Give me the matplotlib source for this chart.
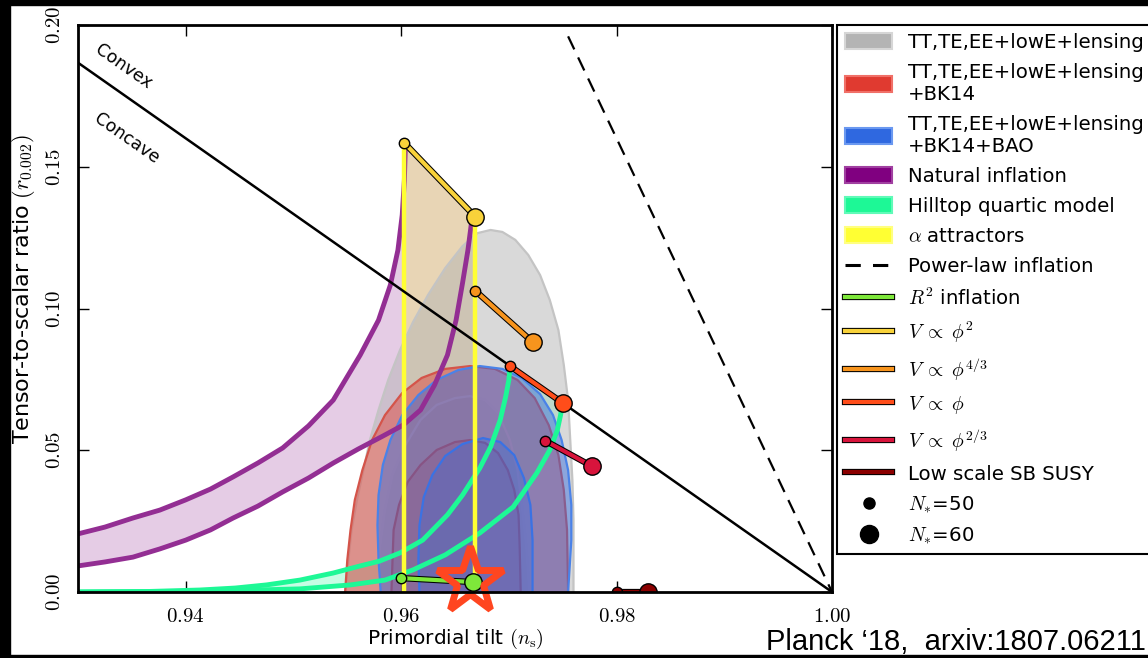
import matplotlib
matplotlib.use("Agg")
import matplotlib.pyplot as plt
import matplotlib.patheffects as pe
from matplotlib.patches import Patch, Rectangle
from matplotlib.lines import Line2D
from matplotlib.ticker import FuncFormatter, FixedLocator

plt.rcParams['mathtext.fontset'] = 'cm'
plt.rcParams['font.family'] = ['DejaVu Sans']

# ---------------- data (ns, r) ----------------
gray95_ns = [0.9548, 0.9551, 0.9554, 0.9559, 0.9565, 0.9571, 0.9579, 0.9588, 0.9599, 0.9611, 0.9625,
             0.9641, 0.9657, 0.9671, 0.9683, 0.9694, 0.9706, 0.9718, 0.9729, 0.9738, 0.9746, 0.9751,
             0.9755, 0.9757, 0.9759, 0.9760, 0.9760]
gray95_r = [0.0, 0.0113, 0.0219, 0.0325, 0.0430, 0.0536, 0.0642, 0.0748, 0.0854, 0.0952, 0.1048,
            0.1143, 0.1220, 0.1266, 0.1277, 0.1270, 0.1242, 0.1189, 0.1118, 0.1030, 0.0924, 0.0801,
            0.0677, 0.0536, 0.0395, 0.0254, 0.0]
gray68_ns = [0.9579, 0.9580, 0.9585, 0.9592, 0.9604, 0.9618, 0.9633, 0.9650, 0.9664, 0.9678, 0.9690,
             0.9701, 0.9708, 0.9712, 0.9716, 0.9719]
gray68_r = [0.0, 0.0148, 0.0289, 0.0413, 0.0519, 0.0607, 0.0660, 0.0684, 0.0691, 0.0677, 0.0631,
            0.0536, 0.0430, 0.0307, 0.0166, 0.0]

red95_ns = [0.9548, 0.9550, 0.9553, 0.9557, 0.9564, 0.9573, 0.9585, 0.9601, 0.9619, 0.9641, 0.9664,
            0.9687, 0.9708, 0.9724, 0.9737, 0.9746, 0.9751, 0.9754, 0.9755]
red95_r = [0.0, 0.0113, 0.0219, 0.0325, 0.0430, 0.0536, 0.0624, 0.0702, 0.0755, 0.0787, 0.0797,
           0.0787, 0.0748, 0.0684, 0.0589, 0.0483, 0.0360, 0.0219, 0.0]
red68_ns = [0.9591, 0.9592, 0.9593, 0.9598, 0.9606, 0.9618, 0.9633, 0.9650, 0.9664, 0.9678, 0.9690,
            0.9699, 0.9705, 0.9709, 0.9710, 0.9711]
red68_r = [0.0, 0.0113, 0.0219, 0.0307, 0.0388, 0.0448, 0.0501, 0.0529, 0.0536, 0.0526, 0.0490,
           0.0430, 0.0360, 0.0272, 0.0166, 0.0]

blue95_ns = [0.9581, 0.9579, 0.9578, 0.9579, 0.9583, 0.9590, 0.9601, 0.9616, 0.9633, 0.9653, 0.9673,
             0.9694, 0.9712, 0.9729, 0.9741, 0.9749, 0.9755, 0.9758, 0.9758, 0.9756, 0.9755]
blue95_r = [0.0, 0.0113, 0.0236, 0.0342, 0.0448, 0.0536, 0.0624, 0.0695, 0.0748, 0.0783, 0.0797,
            0.0787, 0.0755, 0.0698, 0.0624, 0.0536, 0.0430, 0.0307, 0.0183, 0.0060, 0.0]
blue68_ns = [0.9617, 0.9616, 0.9617, 0.9621, 0.9629, 0.9641, 0.9657, 0.9676, 0.9692, 0.9705, 0.9714,
             0.9720, 0.9722, 0.9722, 0.9722]
blue68_r = [0.0, 0.0113, 0.0236, 0.0335, 0.0413, 0.0480, 0.0522, 0.0543, 0.0529, 0.0483, 0.0402,
            0.0307, 0.0183, 0.0060, 0.0]

nat50_ns = [0.9300, 0.9325, 0.9351, 0.9376, 0.9400, 0.9423, 0.9444, 0.9467, 0.9490, 0.9514, 0.9537,
            0.9562, 0.9579, 0.9590, 0.9597, 0.9601, 0.9603, 0.9604]
nat50_r = [0.0205, 0.0229, 0.0261, 0.0289, 0.0325, 0.0363, 0.0406, 0.0455, 0.0508, 0.0586, 0.0677,
           0.0836, 0.0959, 0.1083, 0.1206, 0.1330, 0.1453, 0.1584]
nat60_ns = [0.9300, 0.9325, 0.9351, 0.9376, 0.9400, 0.9423, 0.9444, 0.9467, 0.9490, 0.9514, 0.9537,
            0.9560, 0.9583, 0.9602, 0.9618, 0.9631, 0.9643, 0.9651, 0.9657, 0.9662, 0.9666]
nat60_r = [0.0092, 0.0106, 0.0123, 0.0152, 0.0183, 0.0219, 0.0261, 0.0303, 0.0353, 0.0402, 0.0455,
           0.0504, 0.0550, 0.0589, 0.0642, 0.0730, 0.0836, 0.0959, 0.1090, 0.1206, 0.1323]

hill50_ns = [0.9300, 0.9367, 0.9413, 0.9446, 0.9475, 0.9506, 0.9537, 0.9562, 0.9580, 0.9599, 0.9620,
             0.9643, 0.9657, 0.9673, 0.9683, 0.9692, 0.9697, 0.9700, 0.9701]
hill50_r = [0.0, 0.0002, 0.0007, 0.0014, 0.0025, 0.0042, 0.0067, 0.0092, 0.0109, 0.0138, 0.0183,
            0.0272, 0.0342, 0.0437, 0.0511, 0.0607, 0.0688, 0.0748, 0.0797]
hill60_ns = [0.9300, 0.9413, 0.9506, 0.9553, 0.9585, 0.9611, 0.9641, 0.9673, 0.9704, 0.9726, 0.9738,
             0.9745, 0.9748, 0.9750]
hill60_r = [0.0, 0.0002, 0.0011, 0.0025, 0.0042, 0.0078, 0.0131, 0.0208, 0.0300, 0.0420, 0.0501,
            0.0571, 0.0624, 0.0667]

convex_ns = [0.93, 1.00]
convex_r = [0.1867, 0.0]
powerlaw_ns = [0.9755, 1.00]
powerlaw_r = [0.1960, 0.0]

# model predictions: (N*=50, N*=60)
r2_ns, r2_r = [0.9600, 0.9667], [0.0049, 0.0035]
phi2_ns, phi2_r = [0.9603, 0.9669], [0.1584, 0.1323]
phi43_ns, phi43_r = [0.9669, 0.9722], [0.1062, 0.0882]
phi1_ns, phi1_r = [0.9701, 0.9750], [0.0797, 0.0667]
phi23_ns, phi23_r = [0.9734, 0.9777], [0.0533, 0.0444]
susy_ns, susy_r = [0.9800, 0.9829], [0.0, 0.0]
star_ns, star_r = 0.9664, 0.0040

xticks = [0.94, 0.96, 0.98, 1.00]
yticks = [0.00, 0.05, 0.10, 0.15, 0.20]

# ---------------- figure ----------------
fig = plt.figure(figsize=(11.48, 6.58), dpi=100)
fig.patch.set_facecolor('white')
ax = fig.add_axes([78/1148, 66/658, 754/1148, 567/658])
ax.set_xlim(0.93, 1.00)
ax.set_ylim(0.0, 0.20)

c_gray, c_red, c_blue = '#b4b4b4', '#e03a30', '#2f68e0'
c_purple, c_green, c_yellow = '#800080', '#1df896', '#ffff33'

# background fills (below the likelihood contours)
ax.fill(nat50_ns + nat60_ns[::-1], nat50_r + nat60_r[::-1], facecolor=c_purple, alpha=0.2,
        edgecolor='none', zorder=0.5)
ax.fill([phi2_ns[0], phi2_ns[0], phi2_ns[1], phi2_ns[1]], [0, phi2_r[0], phi2_r[1], 0],
        facecolor='#e8d5b5', edgecolor='none', zorder=0.6)
ax.fill(hill50_ns + hill60_ns[::-1], hill50_r + hill60_r[::-1], facecolor=c_green, alpha=0.25,
        edgecolor='none', zorder=0.7)

def contour(ns, r, col, alpha, ecol, z):
    ax.fill(ns, r, facecolor=col, alpha=alpha, edgecolor='none', zorder=z)
    ax.plot(ns, r, color=ecol, lw=1.6, zorder=z + 0.1, solid_capstyle='butt')

contour(gray95_ns, gray95_r, c_gray, 0.5, '#c4c4c4', 1)
contour(gray68_ns, gray68_r, c_gray, 0.2, '#d8d8d8', 1.2)
contour(red95_ns, red95_r, c_red, 0.45, '#d4544a', 2)
contour(red68_ns, red68_r, c_red, 0.3, '#d0443a', 2.2)
contour(blue95_ns, blue95_r, c_blue, 0.45, '#4a82e8', 3)
contour(blue68_ns, blue68_r, c_blue, 0.3, '#3a72e4', 3.2)

# natural inflation lines
ax.plot(nat50_ns, nat50_r, color='#932e93', lw=3.5, zorder=4.1)
ax.plot(nat60_ns, nat60_r, color='#932e93', lw=3.5, zorder=4.1)

# hilltop quartic lines
ax.plot(hill50_ns, hill50_r, color=c_green, lw=3.5, zorder=5.1)
ax.plot(hill60_ns, hill60_r, color=c_green, lw=3.5, zorder=5.1)

# alpha attractors
ax.plot([phi2_ns[0], phi2_ns[0]], [0, phi2_r[0]], color=c_yellow, lw=3.2, zorder=5.6)
ax.plot([phi2_ns[1], phi2_ns[1]], [0, phi2_r[1]], color=c_yellow, lw=3.2, zorder=5.6)

# convex / concave and power law
ax.plot(convex_ns, convex_r, color='black', lw=1.8, zorder=6)
ax.plot(powerlaw_ns, powerlaw_r, color='black', lw=1.6, linestyle=(0, (6.5, 4)), zorder=6)
ax.text(0.93418, 0.1852, 'Convex', rotation=-35, ha='center', va='center', fontsize=12.5,
        rotation_mode='anchor', zorder=6)
ax.text(0.93455, 0.1598, 'Concave', rotation=-35, ha='center', va='center', fontsize=12.5,
        rotation_mode='anchor', zorder=6)

outline = [pe.Stroke(linewidth=4.5, foreground='black'), pe.Normal()]
models = [
    (r2_ns, r2_r, '#7ee83a'),
    (phi2_ns, phi2_r, '#f8d23a'),
    (phi43_ns, phi43_r, '#f7941d'),
    (phi1_ns, phi1_r, '#ff4d1a'),
    (phi23_ns, phi23_r, '#d8143c'),
    (susy_ns, susy_r, '#8b0000'),
]
for ns, r, col in models:
    ax.plot(ns, r, color=col, lw=3, zorder=7, path_effects=outline, solid_capstyle='butt')
    ax.plot(ns[0], r[0], 'o', ms=7.5, mfc=col, mec='black', mew=1, zorder=8)
    ax.plot(ns[1], r[1], 'o', ms=12.5, mfc=col, mec='black', mew=1, zorder=8)

ax.plot(star_ns, star_r, marker='*', ms=50, mfc='none', mec='#ff4620', mew=5, zorder=9,
        clip_on=False, linestyle='none')

# axes styling
for s in ax.spines.values():
    s.set_linewidth(2)
    s.set_zorder(10)
ax.xaxis.set_major_locator(FixedLocator(xticks))
ax.yaxis.set_major_locator(FixedLocator(yticks))
ax.xaxis.set_major_formatter(FuncFormatter(lambda v, p: r'$%.2f$' % v))
ax.yaxis.set_major_formatter(FuncFormatter(lambda v, p: r'$%.2f$' % v))
ax.tick_params(direction='in', length=8, width=1, top=True, right=True, labelsize=15, pad=10)
for lab in ax.get_yticklabels():
    lab.set_rotation(90)
    lab.set_va('center')
ax.set_xlabel(r'Primordial tilt $(n_\mathrm{s})$', fontsize=14.5, labelpad=1)
ax.set_ylabel(r'Tensor-to-scalar ratio $(r_{0.002})$', fontsize=16)
ax.yaxis.set_label_coords(-0.0545, 0.535)

# legend
handles = [
    Patch(facecolor=c_gray, edgecolor='#d6d6d6', lw=1.5),
    Patch(facecolor=c_red, edgecolor='#f07068', lw=1.5),
    Patch(facecolor=c_blue, edgecolor='#6a98f0', lw=1.5),
    Patch(facecolor=c_purple, edgecolor='#a040a0', lw=1.5),
    Patch(facecolor=c_green, edgecolor='#60fab8', lw=1.5),
    Patch(facecolor=c_yellow, edgecolor='#ffff80', lw=1.5),
    Line2D([], [], color='black', lw=2.2, linestyle=(0, (5, 4))),
]
for _, _, col in models:
    handles.append(Line2D([], [], color=col, lw=3, path_effects=outline))
handles.append(Line2D([], [], marker='o', ms=8, color='black', linestyle='none'))
handles.append(Line2D([], [], marker='o', ms=13, color='black', linestyle='none'))
labels = ['TT,TE,EE+lowE+lensing', 'TT,TE,EE+lowE+lensing\n+BK14',
          'TT,TE,EE+lowE+lensing\n+BK14+BAO', 'Natural inflation', 'Hilltop quartic model',
          r'$\alpha$ attractors', 'Power-law inflation', r'$R^2$ inflation',
          r'$V\;\propto\;\phi^2$', r'$V\;\propto\;\phi^{4/3}$', r'$V\;\propto\;\phi$',
          r'$V\;\propto\;\phi^{2/3}$', 'Low scale SB SUSY',
          r'$N_{*}$=50', r'$N_{*}$=60']
leg = fig.legend(handles, labels, loc='upper left', bbox_to_anchor=(837/1148, 633/658),
                 fontsize=14.2, frameon=True, fancybox=False, framealpha=1, edgecolor='black',
                 borderaxespad=0, handlelength=2.4, handleheight=0.9, labelspacing=0.56,
                 handletextpad=0.8, borderpad=0.4)
leg.get_frame().set_linewidth(1.5)

fig.text(1146/1148, 8/658, "Planck \u201818,  arxiv:1807.06211", ha='right', va='baseline',
         fontsize=21, family='Liberation Sans')

# black frame strips
fig.patches.append(Rectangle((0, 1 - 5/658), 1, 5/658, transform=fig.transFigure,
                             color='black', zorder=20))
fig.patches.append(Rectangle((0, 0), 10/1148, 1, transform=fig.transFigure,
                             color='black', zorder=20))
fig.patches.append(Rectangle((0, 0), 1, 3/658, transform=fig.transFigure,
                             color='black', zorder=20))

fig.savefig('out.png', dpi=100)
